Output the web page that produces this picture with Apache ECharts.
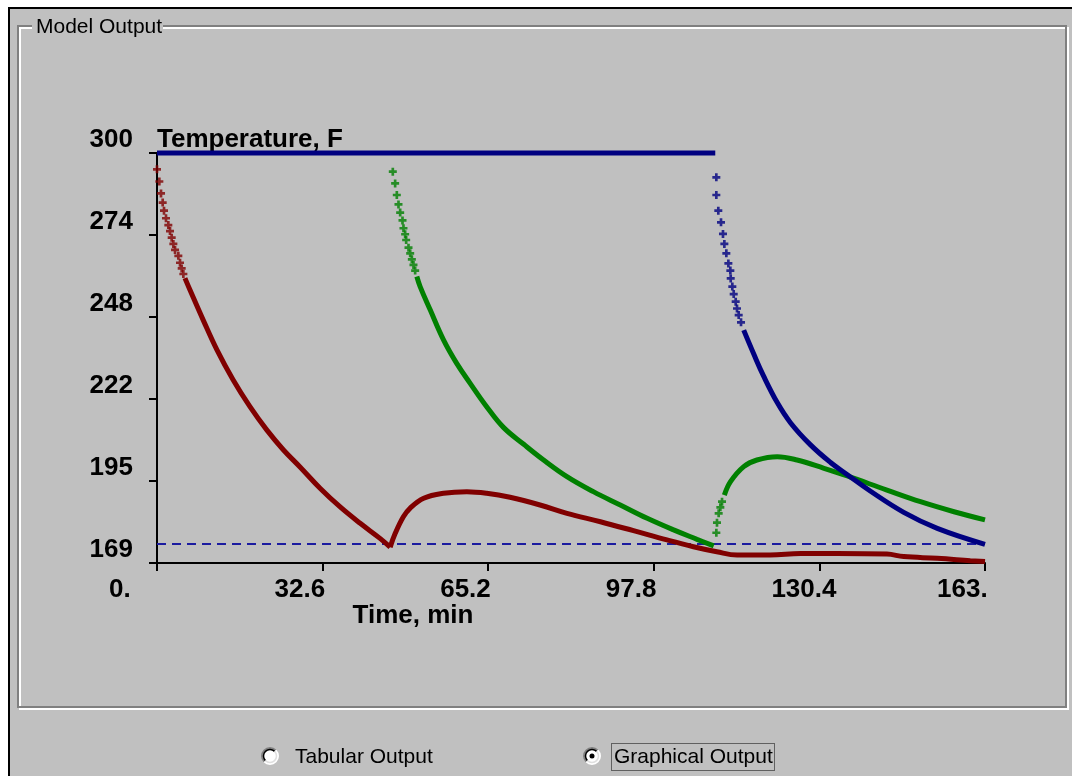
<!DOCTYPE html>
<html>
<head>
<meta charset="utf-8">
<title>Model Output</title>
<script src="https://cdn.jsdelivr.net/npm/echarts@6/dist/echarts.min.js"></script>
<style>
html, body { margin: 0; padding: 0; background: #fff; }
#chart { width: 1072px; height: 776px; }
</style>
</head>
<body>
<div id="chart"></div>
<script>
// axes
var xMin = 0, xMax = 163, xStep = 32.6;
var yMin = 169.25, yMax = 300, yStep = 26.15;
var xTickLabels = ['0.', '32.6', '65.2', '97.8', '130.4', '163.'];
var yTickLabels = ['169', '195', '222', '248', '274', '300'];
var setPoint = 175.3;

// red: first vessel (sparse crosses at the start, then the dense trace)
var redStart = [[0, 294.8], [0.46, 290.9], [0.79, 287.1], [1.12, 284.2], [1.38, 281.6], [1.77, 279.2], [2.23, 277.0], [2.56, 275.1], [2.89, 273.0], [3.22, 271.0], [3.55, 269.1], [4.2, 267.2], [4.53, 265.0], [4.86, 263.2], [5.19, 261.4]];
var redTrace = [[5.5, 260.1], [6.5, 256.3], [9.1, 246.7], [11.8, 237.2], [15.0, 227.6], [18.3, 219.1], [21.6, 211.7], [24.9, 205.3], [28.2, 199.8], [32.1, 193.1], [36.0, 187.2], [40.0, 181.9], [43.9, 177.1], [45.9, 174.3]];
var redTrace2 = [[45.9, 174.3], [46.9, 178.7], [48.5, 184.0], [49.8, 186.7], [52.5, 189.9], [56.4, 191.5], [61.0, 192.0], [64.9, 191.5], [69.5, 190.2], [75.4, 187.75], [80.7, 185.1], [87.3, 182.4], [93.8, 179.55], [100.4, 176.6], [105.6, 174.45], [110.2, 172.85], [114.2, 171.8], [120.7, 171.8], [126.7, 172.3], [133.9, 172.3], [143.7, 172.1], [147.0, 171.3], [153.6, 170.75], [160.1, 170.0], [163.0, 169.7]];

// green: second vessel
var greenStart = [[46.42, 294.05], [46.88, 290.3], [47.21, 286.6], [47.54, 283.6], [47.87, 281.0], [48.33, 278.5], [48.52, 276.0], [48.85, 274.1], [49.05, 272.25], [49.51, 269.8], [49.84, 268.0], [50.17, 266.1], [50.49, 264.3], [50.82, 262.5]];
var greenTrace = [[51.15, 260.6], [51.8, 257.4], [53.8, 249.9], [56.4, 240.4], [59.0, 232.9], [61.65, 226.55], [64.9, 219.1], [68.2, 212.5], [72.2, 207.1], [76.1, 202.1], [80.7, 196.8], [85.9, 192.0], [91.2, 187.75], [96.5, 183.5], [101.7, 179.8], [106.3, 176.8], [109.6, 174.7]];
var greenStart2 = [[110.11, 178.9], [110.24, 182.1], [110.57, 185.1], [110.9, 187.0], [111.23, 188.8]];
var greenTrace2 = [[111.69, 190.9], [112.9, 195.2], [115.5, 200.0], [118.1, 202.1], [122.1, 203.15], [126.0, 202.1], [131.3, 199.45], [135.9, 197.0], [143.7, 192.5], [150.3, 188.8], [156.9, 185.6], [163.0, 183.0]];

// blue: third vessel (held at 300 until it is loaded)
var blueHold = [[0, 300], [109.9, 300]];
var blueStart = [[110.11, 292.25], [110.11, 286.6], [110.5, 281.6], [111.03, 277.9], [111.42, 274.2], [111.69, 271.0], [112.08, 268.0], [112.48, 264.8], [112.87, 262.5], [112.94, 260.0], [113.26, 257.4], [113.53, 255.0], [113.92, 252.6], [114.18, 250.4], [114.51, 248.3], [114.97, 246.0]];
var blueTrace = [[115.5, 243.5], [117.5, 235.8], [119.4, 228.9], [122.1, 220.4], [124.7, 214.0], [128.6, 207.0], [132.6, 201.3], [135.9, 197.4], [140.4, 192.2], [147.0, 185.4], [153.6, 180.3], [163.0, 175.2]];

var RED = '#800000', GREEN = '#008000', BLUE = '#000080';
var plus = 'path://M3,0L6,0L6,3L9,3L9,6L6,6L6,9L3,9L3,6L0,6L0,3L3,3Z';
var font = 'Liberation Sans, Arial, sans-serif';

function trace(data, color) {
  return {
    type: 'line', data: data, smooth: 0.4, symbol: 'none', clip: false, silent: true,
    lineStyle: { color: color, width: 5 }
  };
}
function crosses(data, color) {
  return {
    type: 'scatter', data: data, symbol: plus, symbolSize: 8, clip: false, silent: true,
    itemStyle: { color: color }
  };
}

function radio(cx, cy, checked) {
  var els = [
    { type: 'circle', shape: { cx: cx, cy: cy, r: 8 }, style: { fill: '#fff' } },
    { type: 'arc', shape: { cx: cx, cy: cy, r: 8, startAngle: Math.PI * 0.75, endAngle: Math.PI * 1.75 }, style: { stroke: '#808080', lineWidth: 2, fill: null } },
    { type: 'arc', shape: { cx: cx, cy: cy, r: 8, startAngle: -Math.PI * 0.25, endAngle: Math.PI * 0.75 }, style: { stroke: '#fff', lineWidth: 2, fill: null } },
    { type: 'arc', shape: { cx: cx, cy: cy, r: 6.5, startAngle: Math.PI * 0.75, endAngle: Math.PI * 1.75 }, style: { stroke: '#000', lineWidth: 1.5, fill: null } },
    { type: 'arc', shape: { cx: cx, cy: cy, r: 6.5, startAngle: -Math.PI * 0.25, endAngle: Math.PI * 0.75 }, style: { stroke: '#dfdfdf', lineWidth: 1.5, fill: null } }
  ];
  if (checked) {
    els.push({ type: 'circle', shape: { cx: cx, cy: cy, r: 2.5 }, style: { fill: '#000' } });
  }
  return els;
}

var graphics = [
  // window frame
  { type: 'rect', shape: { x: 0, y: 0, width: 1072, height: 7 }, style: { fill: '#fff' } },
  { type: 'rect', shape: { x: 0, y: 0, width: 8, height: 776 }, style: { fill: '#fff' } },
  { type: 'rect', shape: { x: 8, y: 7, width: 1064, height: 2 }, style: { fill: '#000' } },
  { type: 'rect', shape: { x: 8, y: 7, width: 2, height: 769 }, style: { fill: '#000' } },
  // group box (etched)
  { type: 'rect', shape: { x: 20, y: 28, width: 1048, height: 681 }, style: { fill: null, stroke: '#fff', lineWidth: 2 } },
  { type: 'rect', shape: { x: 18, y: 26, width: 1048, height: 681 }, style: { fill: null, stroke: '#808080', lineWidth: 2 } },
  { type: 'rect', shape: { x: 32, y: 17, width: 131, height: 20 }, style: { fill: '#c0c0c0' } },
  { type: 'text', x: 36, y: 27, style: { text: 'Model Output', font: '21px ' + font, fill: '#000', verticalAlign: 'middle' } },
  // axis titles
  { type: 'text', x: 157, y: 140, style: { text: 'Temperature, F', font: 'bold 26px ' + font, fill: '#000', verticalAlign: 'middle' } },
  { type: 'text', x: 413, y: 616, style: { text: 'Time, min', font: 'bold 26px ' + font, fill: '#000', align: 'center', verticalAlign: 'middle' } },
  // output choice
  { type: 'text', x: 295, y: 757, style: { text: 'Tabular Output', font: '21px ' + font, fill: '#000', verticalAlign: 'middle' } },
  { type: 'text', x: 614, y: 757, style: { text: 'Graphical Output', font: '21px ' + font, fill: '#000', verticalAlign: 'middle' } },
  { type: 'rect', shape: { x: 611.5, y: 743.5, width: 163, height: 27 }, style: { fill: null, stroke: '#000', lineWidth: 1, lineDash: [1, 1] } }
].concat(radio(270, 756, false), radio(592, 756, true));

var chart = echarts.init(document.getElementById('chart'));
chart.setOption({
  animation: false,
  backgroundColor: '#c0c0c0',
  grid: { left: 157, right: 87, top: 153, bottom: 213, outerBoundsMode: 'none' },
  xAxis: {
    type: 'value', min: xMin, max: xMax, interval: xStep,
    splitLine: { show: false },
    axisLine: { show: true, lineStyle: { color: '#000', width: 2 } },
    axisTick: { show: true, length: 8, lineStyle: { color: '#000', width: 2 } },
    axisLabel: {
      margin: 14, align: 'center', hideOverlap: false,
      formatter: function (v) {
        return '{t|' + xTickLabels[Math.round((v - xMin) / xStep)] + '}';
      },
      rich: { t: { width: 96, align: 'left', fontFamily: font, fontSize: 26, fontWeight: 'bold', color: '#000' } }
    }
  },
  yAxis: {
    type: 'value', min: yMin, max: yMax, interval: yStep,
    splitLine: { show: false },
    axisLine: { show: true, lineStyle: { color: '#000', width: 2 } },
    axisTick: { show: true, length: 8, lineStyle: { color: '#000', width: 2 } },
    axisLabel: {
      margin: 24, verticalAlign: 'bottom', hideOverlap: false,
      fontFamily: font, fontSize: 26, fontWeight: 'bold', color: '#000',
      formatter: function (v) {
        return yTickLabels[Math.round((v - yMin) / yStep)];
      }
    }
  },
  graphic: graphics,
  series: [
    {
      type: 'line', data: [[xMin, setPoint], [xMax, setPoint]], symbol: 'none', silent: true,
      lineStyle: { color: '#1c1ca0', width: 2, type: [9, 6] }
    },
    trace(redTrace, RED), trace(redTrace2, RED), crosses(redStart, RED),
    trace(greenTrace, GREEN), crosses(greenStart, GREEN),
    trace(greenTrace2, GREEN), crosses(greenStart2, GREEN),
    trace(blueHold, BLUE),
    trace(blueTrace, BLUE), crosses(blueStart, BLUE)
  ]
});
</script>
</body>
</html>
